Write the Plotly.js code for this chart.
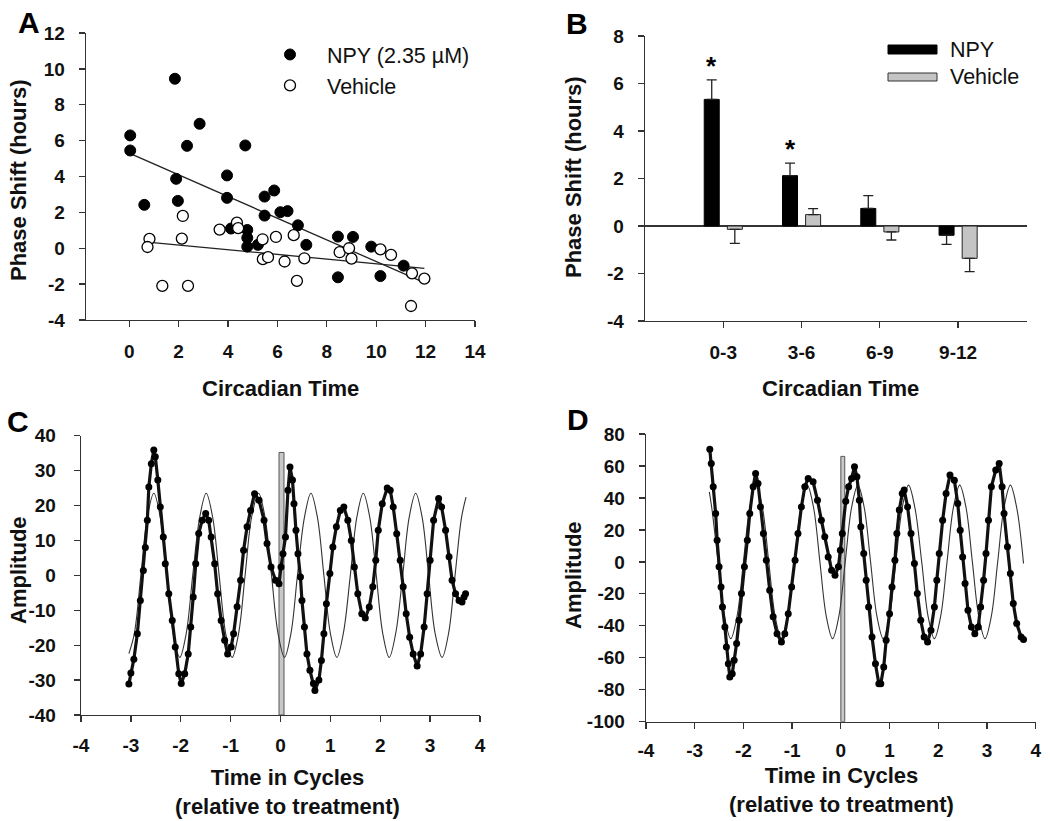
<!DOCTYPE html>
<html><head><meta charset="utf-8">
<script src="https://cdn.plot.ly/plotly-3.0.1.min.js"></script>
<style>html,body{margin:0;padding:0;background:#fff}</style>
</head><body><div id="chart" style="width:1050px;height:821px"></div>
<script>
// ---------- Panel A: phase shift vs circadian time ----------
const npyCT    = [0.04, 0.04, 0.61, 1.85, 1.90, 1.97, 2.34, 2.85, 3.96, 3.96, 4.12, 4.70, 4.78, 4.78, 4.78, 5.21, 5.48, 5.48, 5.87, 6.12, 6.41, 6.83, 7.17, 8.45, 8.45, 9.06, 9.80, 10.17, 11.11];
const npyShift = [6.29, 5.45, 2.42, 9.45, 3.87, 2.64, 5.71, 6.94, 4.06, 2.81, 1.10, 5.73, 1.02, 0.58, 0.09, 0.19, 2.88, 1.82, 3.22, 2.01, 2.07, 1.28, 0.19, 0.65, -1.62, 0.63, 0.09, -1.55, -0.97];
const vehCT    = [0.82, 0.74, 1.34, 2.17, 2.13, 2.38, 3.66, 4.36, 4.41, 5.40, 5.41, 5.62, 5.94, 6.29, 6.66, 6.79, 7.09, 8.52, 8.90, 9.00, 10.17, 10.60, 11.45, 11.41, 11.95];
const vehShift = [0.52, 0.07, -2.10, 1.80, 0.54, -2.10, 1.04, 1.43, 1.12, 0.50, -0.61, -0.50, 0.63, -0.74, 0.73, -1.82, -0.56, -0.22, 0.00, -0.58, -0.06, -0.37, -1.40, -3.22, -1.69];
const npyFitCT = [0.0, 11.95];
const npyFitShift = [5.30, -1.92];
const vehFitCT = [0.85, 11.95];
const vehFitShift = [0.33, -1.12];

// ---------- Panel B: binned means ----------
const ctBins  = ['0-3', '3-6', '6-9', '9-12'];
const npyMean = [5.33, 2.12, 0.74, -0.39];
const npySem  = [0.82, 0.53, 0.54, 0.38];
const vehMean = [-0.14, 0.48, -0.25, -1.36];
const vehSem  = [0.59, 0.25, 0.34, 0.56];
const sigBins = ['0-3', '3-6'];

// ---------- Panel C: rhythm trace & fit ----------
const cTime = [-3.04,-3.00,-2.94,-2.87,-2.81,-2.75,-2.71,-2.67,-2.64,-2.59,-2.54,-2.51,-2.46,-2.41,-2.35,-2.31,-2.24,-2.17,-2.11,-2.04,-1.99,-1.92,-1.85,-1.80,-1.75,-1.70,-1.64,-1.57,-1.50,-1.44,-1.39,-1.32,-1.26,-1.19,-1.12,-1.06,-0.99,-0.94,-0.87,-0.80,-0.74,-0.67,-0.60,-0.52,-0.43,-0.33,-0.27,-0.19,-0.10,-0.03,0.01,0.05,0.10,0.15,0.19,0.24,0.27,0.31,0.35,0.40,0.43,0.48,0.53,0.59,0.66,0.69,0.77,0.82,0.87,0.92,0.99,1.05,1.12,1.20,1.27,1.35,1.42,1.48,1.55,1.63,1.70,1.78,1.85,1.91,1.96,2.04,2.14,2.20,2.26,2.33,2.40,2.46,2.52,2.59,2.66,2.74,2.81,2.88,2.94,3.00,3.07,3.17,3.23,3.31,3.38,3.44,3.51,3.58,3.64,3.68,3.71];
const cAmp  = [-31.1,-28,-24,-16.7,-7.2,1.4,8,15.8,25.3,32,35.9,34,27.3,19.6,11,3.3,-5.3,-12.9,-20.5,-28.2,-31,-28.2,-22.5,-14.8,-6.2,3.3,12,15.8,17.7,15.8,11,3.3,-5.3,-12.9,-18.6,-22.5,-20.5,-16.7,-9,-1.4,7.2,13.9,18.6,23.4,21.5,15.8,9.1,2.4,-1.4,-2.4,2.4,6.2,11,24.4,31,27.3,20.5,12.9,6.2,-0.5,-7.2,-14.8,-22.5,-27.2,-31,-33,-30,-24.4,-16.7,-8.1,0.5,8.1,13.9,18.6,19.6,15.8,10,2.4,-5.3,-11,-12.2,-9.1,-3.3,4.3,12.9,20.5,25,24.4,19.6,11.9,4.3,-3.3,-11,-17.7,-22.5,-26,-22.5,-14.8,-5.3,4.3,15.8,22,19.6,12.9,5.3,-1.4,-5.3,-7.2,-7.6,-6.2,-5.3];
const cFitTime = [-3.04,-2.93,-2.80,-2.67,-2.54,-2.41,-2.28,-2.15,-2.02,-1.89,-1.76,-1.62,-1.49,-1.36,-1.23,-1.10,-0.97,-0.84,-0.71,-0.58,-0.44,-0.31,-0.18,-0.05,0.08,0.21,0.34,0.48,0.61,0.74,0.87,1.00,1.13,1.26,1.40,1.53,1.66,1.79,1.92,2.05,2.18,2.31,2.45,2.58,2.71,2.84,2.97,3.10,3.24,3.37,3.50,3.63,3.72];
const cFitAmp  = [-22.4,-16.6,0,16.6,23.5,16.6,0,-16.6,-23.5,-16.6,0,16.6,23.5,16.6,0,-16.6,-23.5,-16.6,0,16.6,23.5,16.6,0,-16.6,-23.5,-16.6,0,16.6,23.5,16.6,0,-16.6,-23.5,-16.6,0,16.6,23.5,16.6,0,-16.6,-23.5,-16.6,0,16.6,23.5,16.6,0,-16.6,-23.5,-16.6,0,16.6,22.4];
const cTreatTime = [0.02];
const cTreatTop  = 35.2;

// ---------- Panel D: rhythm trace & fit ----------
const dTime = [-2.69,-2.66,-2.62,-2.57,-2.54,-2.50,-2.46,-2.43,-2.38,-2.35,-2.31,-2.28,-2.23,-2.19,-2.14,-2.09,-2.04,-1.98,-1.92,-1.87,-1.80,-1.75,-1.70,-1.65,-1.59,-1.53,-1.46,-1.39,-1.31,-1.22,-1.15,-1.08,-1.01,-0.94,-0.88,-0.81,-0.74,-0.67,-0.57,-0.48,-0.40,-0.33,-0.26,-0.19,-0.12,-0.05,-0.01,0.03,0.10,0.16,0.22,0.28,0.33,0.38,0.41,0.47,0.52,0.57,0.64,0.71,0.78,0.82,0.88,0.93,1.00,1.05,1.11,1.15,1.20,1.26,1.30,1.37,1.44,1.51,1.57,1.64,1.71,1.78,1.85,1.92,1.97,2.02,2.09,2.16,2.24,2.33,2.40,2.45,2.50,2.55,2.61,2.68,2.75,2.82,2.87,2.93,2.98,3.03,3.09,3.18,3.25,3.31,3.35,3.42,3.48,3.54,3.61,3.70,3.75];
const dAmp  = [70.4,61.6,47,30.3,13.6,-3.1,-15.7,-28.2,-40.7,-53.2,-63.7,-72,-70,-61.6,-51.1,-36.5,-19.8,-3.1,13.6,30.3,47,55.3,49,34.4,17.7,1,-17.7,-34.4,-44.9,-50.1,-44.9,-32.4,-15.7,1,17.7,34.4,47,52.2,50.1,38.6,26.1,15.7,3.1,-5.2,-8.4,-3.1,7.3,17.7,38,47,52.2,59.5,53.2,38.6,21.9,5.2,-11.5,-28.2,-47,-63.7,-76.2,-76.2,-65.8,-49.1,-32.4,-15.7,1,17.7,32.4,42.8,44.9,34.4,17.7,-1,-19.8,-36.5,-47,-50.1,-42.8,-28.2,-11.5,5.2,26.1,42.8,54.3,51.1,36.5,19.8,3.1,-13.6,-30.3,-40.7,-44.9,-40.7,-28.2,-11.5,5.2,26.1,47,57.4,61.6,47,30.3,9.4,-7.3,-26.1,-38.6,-47,-48.6];
const dFitTime = [-2.70,-2.65,-2.52,-2.39,-2.26,-2.13,-2.00,-1.87,-1.74,-1.61,-1.48,-1.35,-1.22,-1.09,-0.95,-0.82,-0.69,-0.56,-0.43,-0.30,-0.17,-0.04,0.09,0.22,0.35,0.48,0.61,0.74,0.87,1.00,1.13,1.26,1.39,1.52,1.66,1.79,1.92,2.05,2.18,2.31,2.44,2.57,2.70,2.83,2.96,3.09,3.22,3.35,3.48,3.61,3.75];
const dFitAmp  = [43.8,33.9,0,-33.9,-48,-33.9,0,33.9,48,33.9,0,-33.9,-48,-33.9,0,33.9,48,33.9,0,-33.9,-48,-33.9,0,33.9,48,33.9,0,-33.9,-48,-33.9,0,33.9,48,33.9,0,-33.9,-48,-33.9,0,33.9,48,33.9,0,-33.9,-48,-33.9,0,33.9,48,33.9,-1];
const dTreatTime = [0.04];
const dTreatTop  = 66;

// ---------- axis ticks ----------
const aXTicks = [0,2,4,6,8,10,12,14];
const aYTicks = [-4,-2,0,2,4,6,8,10,12];
const bYTicks = [-4,-2,0,2,4,6,8];
const cXTicks = [-4,-3,-2,-1,0,1,2,3,4];
const cYTicks = [-40,-30,-20,-10,0,10,20,30,40];
const dXTicks = [-4,-3,-2,-1,0,1,2,3,4];
const dYTicks = [-100,-80,-60,-40,-20,0,20,40,60,80];

// ---------- helpers ----------
const FONT = 'Liberation Sans, Arial, Helvetica, sans-serif';
const W = 1050, H = 821;
const px = v => v / W;
const py = v => 1 - v / H;
const axisBase = {
  showline: true, linecolor: '#333', linewidth: 1.3,
  ticks: 'outside', ticklen: 6, tickwidth: 1.3, tickcolor: '#333',
  showgrid: false, zeroline: false, fixedrange: true,
  tickfont: {family: FONT, size: 19, color: '#111', weight: 700}
};
function ax(extra){ return Object.assign({}, axisBase, extra); }
function tk(vals){ return {tickmode: 'array', tickvals: vals, ticktext: vals.map(String)}; }

const traces = [
  // A
  {type:'scatter', mode:'lines', x:npyFitCT, y:npyFitShift, xaxis:'x', yaxis:'y', line:{color:'#222', width:1.3}, showlegend:false, hoverinfo:'skip'},
  {type:'scatter', mode:'lines', x:vehFitCT, y:vehFitShift, xaxis:'x', yaxis:'y', line:{color:'#222', width:1.3}, showlegend:false, hoverinfo:'skip'},
  {type:'scatter', mode:'markers', name:'NPY (2.35 µM)', x:npyCT, y:npyShift, xaxis:'x', yaxis:'y',
   marker:{symbol:'circle', size:11, color:'#000', line:{color:'#000', width:1}}},
  {type:'scatter', mode:'markers', name:'Vehicle', x:vehCT, y:vehShift, xaxis:'x', yaxis:'y',
   marker:{symbol:'circle', size:11, color:'#fff', line:{color:'#000', width:1.3}}},
  // B
  {type:'bar', name:'NPY', x:ctBins, y:npyMean, xaxis:'x2', yaxis:'y2', showlegend:false,
   marker:{color:'#000', line:{color:'#000', width:1}},
   error_y:{type:'data', symmetric:false, array:npyMean.map((m,i)=>m>=0?npySem[i]:0), arrayminus:npyMean.map((m,i)=>m<0?npySem[i]:0), color:'#222', thickness:1.3, width:5}},
  {type:'bar', name:'Vehicle', x:ctBins, y:vehMean, xaxis:'x2', yaxis:'y2', showlegend:false,
   marker:{color:'#c4c4c4', line:{color:'#222', width:1}},
   error_y:{type:'data', symmetric:false, array:vehMean.map((m,i)=>m>=0?vehSem[i]:0), arrayminus:vehMean.map((m,i)=>m<0?vehSem[i]:0), color:'#222', thickness:1.3, width:5}},
  // C
  {type:'bar', x:cTreatTime, y:[cTreatTop + 40], base:-40, width:0.1, xaxis:'x3', yaxis:'y3', showlegend:false,
   marker:{color:'#c8c8c8', line:{color:'#555', width:1}}, hoverinfo:'skip'},
  {type:'scatter', mode:'lines', x:cFitTime, y:cFitAmp, xaxis:'x3', yaxis:'y3', line:{color:'#333', width:1.1, shape:'spline', smoothing:1}, showlegend:false},
  {type:'scatter', mode:'lines+markers', x:cTime, y:cAmp, xaxis:'x3', yaxis:'y3', showlegend:false,
   line:{color:'#111', width:3.2}, marker:{color:'#000', size:7}},
  // D
  {type:'bar', x:dTreatTime, y:[dTreatTop + 100], base:-100, width:0.08, xaxis:'x4', yaxis:'y4', showlegend:false,
   marker:{color:'#c8c8c8', line:{color:'#555', width:1}}, hoverinfo:'skip'},
  {type:'scatter', mode:'lines', x:dFitTime, y:dFitAmp, xaxis:'x4', yaxis:'y4', line:{color:'#333', width:1.1, shape:'spline', smoothing:1}, showlegend:false},
  {type:'scatter', mode:'lines+markers', x:dTime, y:dAmp, xaxis:'x4', yaxis:'y4', showlegend:false,
   line:{color:'#111', width:3.2}, marker:{color:'#000', size:7}}
];

const titleFont = {family: FONT, size: 22, color: '#111', weight: 700};
const letterFont = {family: FONT, size: 30, color: '#000', weight: 700};
const legFont = {family: FONT, size: 21.5, color: '#111'};

function ann(text, x, y, font, extra){
  return Object.assign({text, x:px(x), y:py(y), xref:'paper', yref:'paper', showarrow:false, xanchor:'center', yanchor:'middle', font}, extra||{});
}

const annotations = [
  ann('A', 29, 22, letterFont), ann('B', 577, 24, letterFont),
  ann('C', 18, 421, letterFont), ann('D', 578, 420, letterFont),
  ann('Circadian Time', 280.5, 388, titleFont),
  ann('Phase Shift (hours)', 18, 180, titleFont, {textangle:-90}),
  ann('Circadian Time', 840, 388, titleFont),
  ann('Phase Shift (hours)', 573, 177, titleFont, {textangle:-90}),
  ann('Time in Cycles<br>(relative to treatment)', 287, 791.5, titleFont),
  ann('Amplitude', 18, 570, titleFont, {textangle:-90}),
  ann('Time in Cycles<br>(relative to treatment)', 841.5, 789.5, titleFont),
  ann('Amplitude', 573, 575, titleFont, {textangle:-90}),
  ann('NPY', 948, 50, legFont, {xanchor:'left'}),
  ann('Vehicle', 948, 77, legFont, {xanchor:'left'})
];
sigBins.forEach((b) => {
  const i = ctBins.indexOf(b);
  annotations.push({text:'*', x:b, y:npyMean[i] + npySem[i] + 0.6, xref:'x2', yref:'y2', xshift:-11.5,
    showarrow:false, yanchor:'middle', font:{family:FONT, size:26, color:'#000', weight:700}});
});

const shapes = [
  {type:'rect', xref:'paper', yref:'paper', x0:px(888), x1:px(937), y0:py(54), y1:py(45), fillcolor:'#000', line:{color:'#000', width:1}},
  {type:'rect', xref:'paper', yref:'paper', x0:px(888), x1:px(937), y0:py(81), y1:py(73), fillcolor:'#c4c4c4', line:{color:'#333', width:1}}
];

const layout = {
  width: W, height: H,
  margin: {l:0, r:0, t:0, b:0},
  paper_bgcolor: '#fff', plot_bgcolor: '#fff',
  font: {family: FONT, color: '#111'},
  showlegend: true,
  legend: {x: px(253), y: py(34), xanchor:'left', yanchor:'top', font: legFont, bgcolor:'rgba(0,0,0,0)', itemwidth:64, tracegroupgap:0},
  barmode: 'group', bargap: 0.41, bargroupgap: 0.35,
  xaxis:  ax(Object.assign({domain:[px(86), px(475)], range:[-1.75, 14], anchor:'y', ticklabelstandoff:8}, tk(aXTicks))),
  yaxis:  ax(Object.assign({domain:[1-320/H, 1-33/H], range:[-4, 12], anchor:'x', ticklabelstandoff:10}, tk(aYTicks))),
  xaxis2: ax({domain:[px(645), px(1027)], type:'category', range:[-1, 3.88], anchor:'y2', ticklabelstandoff:8}),
  yaxis2: ax(Object.assign({domain:[1-321/H, 1-36/H], range:[-4, 8], anchor:'x2', zeroline:true, zerolinecolor:'#333', zerolinewidth:1.3, ticklabelstandoff:10}, tk(bYTicks))),
  xaxis3: ax(Object.assign({domain:[px(81), px(480)], range:[-4, 4], anchor:'y3', ticklabelstandoff:7}, tk(cXTicks))),
  yaxis3: ax(Object.assign({domain:[1-715/H, 1-435.7/H], range:[-40, 40], anchor:'x3', ticklabelstandoff:14}, tk(cYTicks))),
  xaxis4: ax(Object.assign({domain:[px(646), px(1035.7)], range:[-4, 4], anchor:'y4', ticklabelstandoff:5}, tk(dXTicks))),
  yaxis4: ax(Object.assign({domain:[1-721.7/H, 1-434/H], range:[-100, 80], anchor:'x4', ticklabelstandoff:10}, tk(dYTicks))),
  annotations, shapes
};

Plotly.newPlot('chart', traces, layout, {displayModeBar:false, staticPlot:true});
</script></body></html>
